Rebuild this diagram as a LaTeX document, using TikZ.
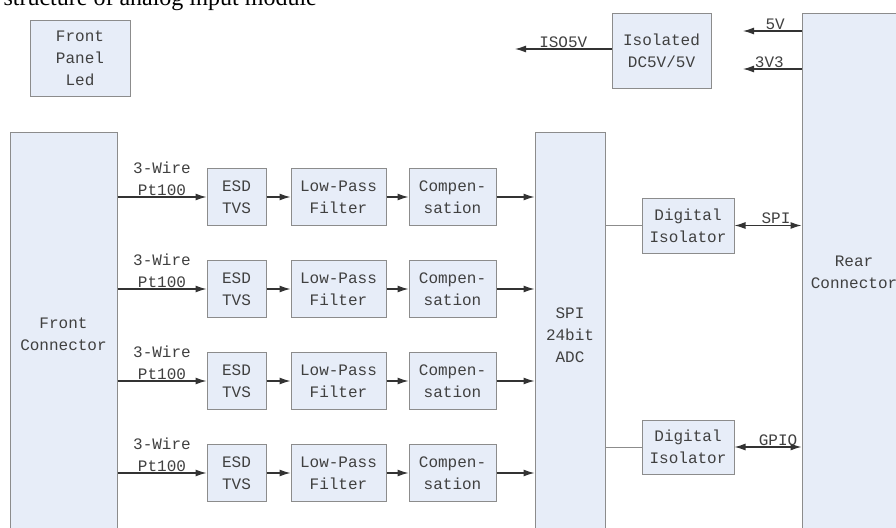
\documentclass[tikz,border=0pt]{standalone}
\usepackage{fontspec}
\setmainfont{Liberation Serif}
\newfontfamily\blockfont{Liberation Mono}
\usetikzlibrary{arrows.meta}
\definecolor{boxfill}{HTML}{E7EDF8}
\definecolor{boxline}{HTML}{8C8C8C}
\definecolor{wire}{HTML}{333333}

\begin{document}
\begin{tikzpicture}[x=1pt,y=-1pt,
  every node/.style={font=\blockfont\fontsize{16}{22}\selectfont,text=black!75},
  block/.style={draw=boxline,fill=boxfill,line width=1pt,align=center,inner sep=0pt},
  sig/.style={draw=wire,line width=1.2pt,-{Latex[length=11pt,width=7pt]}},
  bus/.style={draw=wire,line width=1.2pt,{Latex[length=11pt,width=7pt]}-{Latex[length=11pt,width=7pt]}},
  tap/.style={draw=boxline,line width=0.8pt}]
  \useasboundingbox (0,0) rectangle (896,527);
  \node[anchor=base west,font=\rmfamily\fontsize{24}{28}\selectfont,text=black]
    (title) at (0,6) {structure of analog input module};
  % big connector blocks
  \node[block,minimum width=100,minimum height=75] (panel) at (80,58.5) {Front\\Panel\\Led};
  \node[block,minimum width=99,minimum height=74] (iso) at (661.5,51) {Isolated\\DC5V/5V};
  \node[block,minimum width=104,minimum height=516] (rear) at (854,272) {Rear\\Connector};
  \node[block,minimum width=107,minimum height=404] (front) at (63.5,334) {Front\\Connector};
  \node[block,minimum width=70,minimum height=406] (adc) at (570,335) {SPI\\24bit\\ADC};
  % power
  \coordinate (piso) at (515,49);
  \coordinate (p5v) at (743,31);
  \coordinate (p3v3) at (743,69);
  \draw[sig] (iso.west |- piso) -- node[above,inner sep=1pt] {ISO5V} (piso);
  \draw[sig] (p5v -| rear.west) -- node[above,inner sep=1pt,pos=0.45] {5V} (p5v);
  \draw[sig] (p3v3 -| rear.west) -- node[above,inner sep=1pt,pos=0.55] {3V3} (p3v3);
  % input channels
  \foreach \row/\yy in {1/197,2/289,3/381,4/473}{
    \node[block,minimum width=59,minimum height=57] (esd\row) at (236.5,\yy) {ESD\\TVS};
    \node[block,minimum width=95,minimum height=57] (lpf\row) at (338.5,\yy) {Low-Pass\\Filter};
    \node[block,minimum width=87,minimum height=57] (comp\row) at (452.5,\yy) {Compen-\\sation};
    \draw[sig] (front.east |- esd\row) -- node[above,align=center,inner sep=1pt] {3-Wire\\Pt100} (esd\row);
    \draw[sig] (esd\row) -- (lpf\row);
    \draw[sig] (lpf\row) -- (comp\row);
    \draw[sig] (comp\row) -- (comp\row -| adc.west);
  }
  % isolated digital side
  \node[block,minimum width=92,minimum height=55] (dig1) at (688,225.5) {Digital\\Isolator};
  \node[block,minimum width=92,minimum height=54] (dig2) at (688,447) {Digital\\Isolator};
  \draw[tap] (dig1 -| adc.east) -- (dig1);
  \draw[tap] (dig2 -| adc.east) -- (dig2);
  \draw[bus] (dig1) -- node[above,inner sep=1pt,pos=0.62] {SPI} (dig1 -| rear.west);
  \draw[bus] (dig2) -- node[above,inner sep=1pt,pos=0.65] {GPIO} (dig2 -| rear.west);
\end{tikzpicture}
\end{document}
